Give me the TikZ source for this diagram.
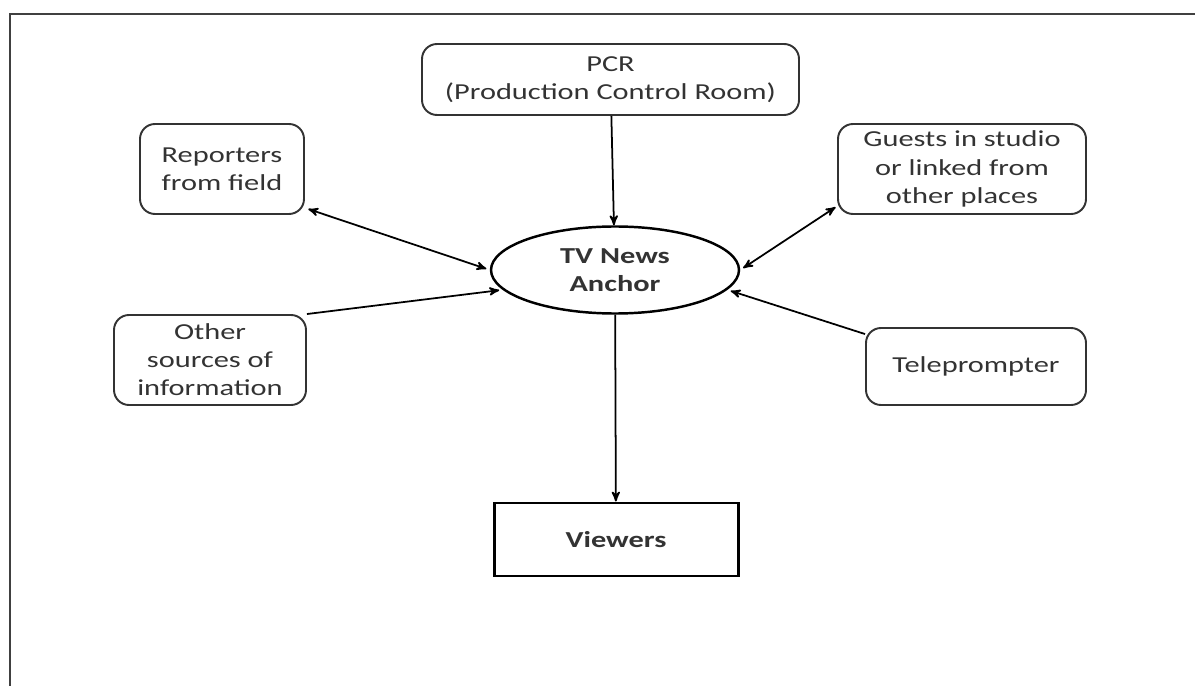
\documentclass[tikz,border=0pt]{standalone}
\usepackage{fontspec}
\setmainfont{Carlito}[FakeStretch=1.33]
\usepackage{tikz}
\usetikzlibrary{arrows, shapes.geometric}

\begin{document}
\begin{tikzpicture}[->,>=stealth',line width=1pt,
                    every node/.style={font=\fontsize{13}{16}\selectfont, text=black!80, align=center}]
  \tikzstyle{source}=[draw=black!80, rounded corners=0.3cm, line width=1.1pt]
  \tikzstyle{anchorbox}=[ellipse, draw=black, line width=1.4pt, font=\fontsize{13}{16}\selectfont\bfseries]
  \tikzstyle{viewbox}=[draw=black, line width=1.7pt, font=\fontsize{13}{16}\selectfont\bfseries]

  \useasboundingbox (0,0) rectangle (23.9,-13.72);
  \draw[-, line width=1.6pt, black!75] (0.2,-14) -- (0.2,-0.28) -- (24.2,-0.28);

  \node[anchorbox, minimum width=4.96cm, minimum height=1.74cm] (anc) at (12.3,-5.4) {TV News\\Anchor};
  \node[source, minimum width=7.54cm, minimum height=1.42cm] (pcr) at (12.21,-1.59) {PCR\\(Production Control Room)};
  \node[source, minimum width=3.28cm, minimum height=1.8cm] (rep) at (4.44,-3.38) {Reporters\\from field};
  \node[source, minimum width=4.96cm, minimum height=1.8cm] (gst) at (19.24,-3.38) {Guests in studio\\or linked from\\other places};
  \node[source, minimum width=3.84cm, minimum height=1.8cm] (oth) at (4.2,-7.2) {Other\\sources of\\information};
  \node[source, minimum width=4.4cm, minimum height=1.54cm] (tel) at (19.52,-7.33) {Teleprompter};
  \node[viewbox, minimum width=4.88cm, minimum height=1.46cm] (vw) at (12.32,-10.79) {Viewers};

  \path (pcr) edge (anc)
        (anc) edge (vw);
  \draw[<->, shorten <=2pt, shorten >=2pt] ([yshift=4pt]rep.south east) -- (anc.west);
  \draw[<->, shorten <=1pt, shorten >=2pt] ([yshift=5pt]gst.south west) -- (anc.east);
  \draw[shorten >=2pt] (oth.north east) -- (anc.190);
  \draw[shorten >=2pt] ([yshift=-4pt]tel.north west) -- (anc.-10);
\end{tikzpicture}
\end{document}
